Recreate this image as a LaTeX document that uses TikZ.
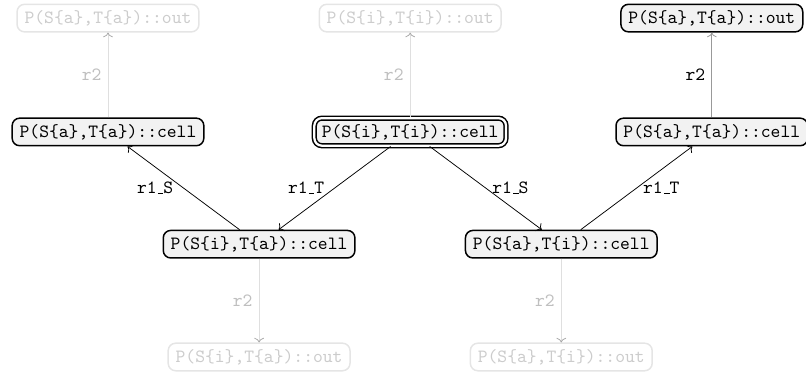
\documentclass[tikz,border=0pt]{standalone}
\usepackage{tikz}
\usetikzlibrary{arrows.meta}

\newcommand{\uscore}{\leavevmode\kern.06em\vbox{\hrule width.3em height .5pt}}

\begin{document}
\begin{tikzpicture}[every node/.style={font=\ttfamily},
    cell/.style={rectangle,rounded corners=4pt,thick,draw,fill=gray!10,inner xsep=4pt,inner ysep=3.2pt},
    faded/.style={rectangle,rounded corners=4pt,thick,draw=gray!20,text=gray!40,inner xsep=4pt,inner ysep=3.2pt},
    fadedge/.style={draw=gray!25,-{To[color=gray!70]}},
    lbl/.style={fill=none,draw=none}]
    \useasboundingbox (0,0) rectangle (15.15,-7.124);

    \node[faded] (Oaa) at (2.03, -0.34) {P(S\{a\},T\{a\})::out};
    \node[faded] (Oii) at (7.71, -0.34) {P(S\{i\},T\{i\})::out};
    \node[cell] (Oaa2) at (13.38, -0.34) {P(S\{a\},T\{a\})::out};

    \node[cell] (Caa) at (2.03, -2.48) {P(S\{a\},T\{a\})::cell};
    \node[cell,double,double distance=1.2pt] (Cii) at (7.71, -2.48) {P(S\{i\},T\{i\})::cell};
    \node[cell] (Caa2) at (13.38, -2.48) {P(S\{a\},T\{a\})::cell};

    \node[cell] (Cia) at (4.87, -4.59) {P(S\{i\},T\{a\})::cell};
    \node[cell] (Cai) at (10.55, -4.59) {P(S\{a\},T\{i\})::cell};

    \node[faded] (Oia) at (4.87, -6.71) {P(S\{i\},T\{a\})::out};
    \node[faded] (Oai) at (10.55, -6.71) {P(S\{a\},T\{i\})::out};

    \path[->] (Cia) edge node[lbl,left=2pt] {r1\uscore S} (Caa);
    \path[->] (Cii) edge node[lbl,left=2pt] {r1\uscore T} (Cia);
    \path[->] (Cii) edge node[lbl,right=0pt] {r1\uscore S} (Cai);
    \path[->] (Cai) edge node[lbl,right=0pt] {r1\uscore T} (Caa2);

    \path (Caa) edge[fadedge] node[lbl,left,text=gray!50] {r2} (Oaa);
    \path (Cii) edge[fadedge] node[lbl,left,text=gray!50] {r2} (Oii);
    \path[->] (Caa2) edge[draw=gray!80] node[lbl,left] {r2} (Oaa2);
    \path (Cia) edge[fadedge] node[lbl,left,text=gray!50] {r2} (Oia);
    \path (Cai) edge[fadedge] node[lbl,left,text=gray!50] {r2} (Oai);
  \end{tikzpicture}
\end{document}
